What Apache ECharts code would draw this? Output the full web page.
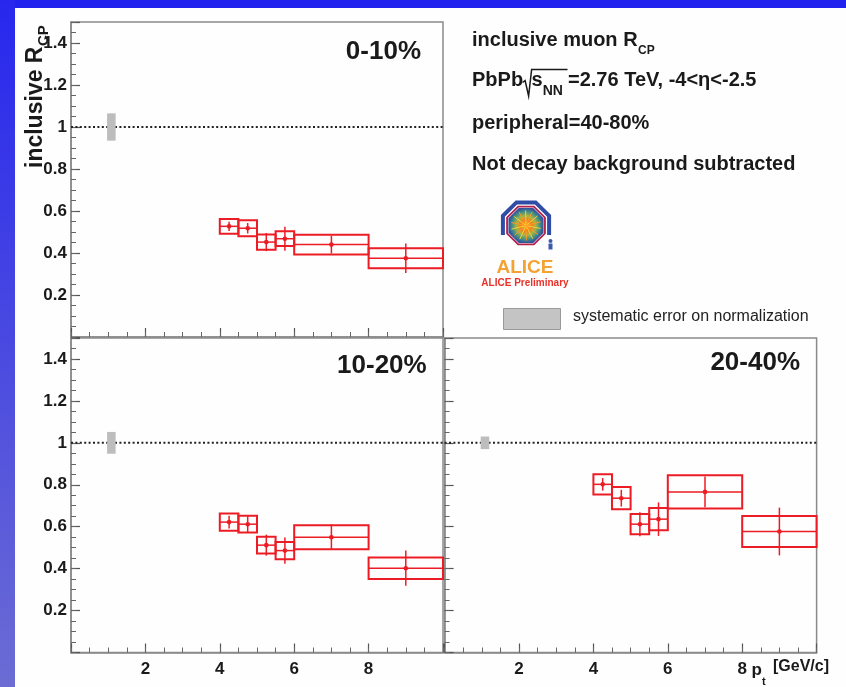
<!DOCTYPE html>
<html>
<head>
<meta charset="utf-8">
<script src="https://cdn.jsdelivr.net/npm/echarts@6/dist/echarts.min.js"></script>
<style>
  html, body { margin: 0; padding: 0; background: #fff; }
  #chart { width: 846px; height: 687px; }
</style>
</head>
<body>
<div id="chart"></div>
<script>
// p_t bins in GeV/c
const binLow    = [4.0, 4.5, 5.0, 5.5, 6.0, 8.0];
const binHigh   = [4.5, 5.0, 5.5, 6.0, 8.0, 10.0];
const binCenter = [4.25, 4.75, 5.25, 5.75, 7.0, 9.0];

// inclusive muon R_CP, centrality 0-10%
const rcp0010  = [0.527, 0.518, 0.452, 0.468, 0.440, 0.375];
const sys0010  = [0.035, 0.038, 0.036, 0.035, 0.047, 0.048];
const stat0010 = [0.022, 0.025, 0.043, 0.057, 0.042, 0.070];

// centrality 10-20%
const rcp1020  = [0.622, 0.612, 0.512, 0.486, 0.550, 0.402];
const sys1020  = [0.041, 0.040, 0.040, 0.041, 0.057, 0.051];
const stat1020 = [0.030, 0.038, 0.050, 0.063, 0.061, 0.084];

// centrality 20-40%
const rcp2040  = [0.802, 0.736, 0.612, 0.636, 0.766, 0.577];
const sys2040  = [0.048, 0.053, 0.048, 0.053, 0.079, 0.074];
const stat2040 = [0.030, 0.040, 0.057, 0.080, 0.073, 0.114];

// normalization uncertainty of each class, drawn as a grey band at R_CP = 1
const normSys  = [0.065, 0.052, 0.030];
const normBinX = [0.97, 1.2];

const centralityLabels = ['0-10%', '10-20%', '20-40%'];
const xTickLabels = [2, 4, 6, 8];
const yTickLabels = ['0.2', '0.4', '0.6', '0.8', '1', '1.2', '1.4'];

const FONT = '"Liberation Sans", Arial, Helvetica, sans-serif';
const RED = '#ec1c24';
const FRAME = '#8a8a8a';

const measureCtx = document.createElement('canvas').getContext('2d');
function textWidth(text, font) { measureCtx.font = font; return measureCtx.measureText(text).width; }

// panel geometry
const grids = [
  { left: 71,    top: 22,  width: 372, height: 315 },
  { left: 71,    top: 338, width: 372, height: 314.5 },
  { left: 444.6, top: 338, width: 372, height: 314.5 }
];

function majorX(gi, showLabels) {
  return {
    type: 'value', gridIndex: gi, position: 'bottom', min: 0, max: 10, interval: 2,
    axisLine: { show: true, onZero: false, lineStyle: { color: FRAME, width: 1.5 } },
    axisTick: { show: true, inside: true, length: 9, lineStyle: { color: '#555', width: 1.2 } },
    splitLine: { show: false },
    axisLabel: {
      show: showLabels, margin: 8, fontSize: 17, fontWeight: 'bold', color: '#1a1a1a', fontFamily: FONT,
      formatter: v => xTickLabels.indexOf(Math.round(v)) >= 0 ? String(Math.round(v)) : ''
    }
  };
}
function minorX(gi) {
  return {
    type: 'value', gridIndex: gi, position: 'bottom', min: 0, max: 10, interval: 0.5,
    axisLine: { show: false, onZero: false },
    axisTick: { show: true, inside: true, length: 5, lineStyle: { color: '#666', width: 1 } },
    splitLine: { show: false }, axisLabel: { show: false }
  };
}
function majorY(gi, showLabels) {
  return {
    type: 'value', gridIndex: gi, position: 'left', min: 0, max: 1.5, interval: 0.2,
    axisLine: { show: true, onZero: false, lineStyle: { color: FRAME, width: 1.5 } },
    axisTick: { show: true, inside: true, length: 9, lineStyle: { color: '#555', width: 1.2 } },
    splitLine: { show: false },
    axisLabel: {
      show: showLabels, margin: 4, fontSize: 17, fontWeight: 'bold', color: '#1a1a1a', fontFamily: FONT,
      formatter: v => {
        const s = String(Math.round(v * 10) / 10);
        return yTickLabels.indexOf(s) >= 0 ? s : '';
      }
    }
  };
}
function minorY(gi) {
  return {
    type: 'value', gridIndex: gi, position: 'left', min: 0, max: 1.5, interval: 0.05,
    axisLine: { show: false, onZero: false },
    axisTick: { show: true, inside: true, length: 5, lineStyle: { color: '#666', width: 1 } },
    splitLine: { show: false }, axisLabel: { show: false }
  };
}

const xAxes = [], yAxes = [];
grids.forEach((g, i) => {
  xAxes.push(majorX(i, i > 0));
  yAxes.push(majorY(i, i < 2));
});
grids.forEach((g, i) => {
  xAxes.push(minorX(i));
  yAxes.push(minorY(i));
});

function pointsData(vals, sys, stat) {
  return vals.map((v, i) => [binLow[i], binHigh[i], binCenter[i], v, sys[i], stat[i]]);
}

// systematic box, bin-width bar, statistical bar and marker for each p_t bin
function renderPoint(params, api) {
  const lo = api.value(0), hi = api.value(1), c = api.value(2);
  const v = api.value(3), sy = api.value(4), st = api.value(5);
  const tl = api.coord([lo, v + sy]);
  const br = api.coord([hi, v - sy]);
  const ml = api.coord([lo, v]);
  const mr = api.coord([hi, v]);
  const st1 = api.coord([c, v + st]);
  const st2 = api.coord([c, v - st]);
  const mc = api.coord([c, v]);
  return {
    type: 'group',
    children: [
      { type: 'rect', shape: { x: tl[0], y: tl[1], width: br[0] - tl[0], height: br[1] - tl[1] },
        style: { fill: 'none', stroke: RED, lineWidth: 2 } },
      { type: 'line', shape: { x1: ml[0], y1: ml[1], x2: mr[0], y2: mr[1] },
        style: { stroke: RED, lineWidth: 1.5 } },
      { type: 'line', shape: { x1: st1[0], y1: st1[1], x2: st2[0], y2: st2[1] },
        style: { stroke: RED, lineWidth: 1.5 } },
      { type: 'circle', shape: { cx: mc[0], cy: mc[1], r: 2.3 }, style: { fill: RED } }
    ]
  };
}

function renderNorm(params, api) {
  const a = api.coord([api.value(0), 1 + api.value(2)]);
  const b = api.coord([api.value(1), 1 - api.value(2)]);
  return { type: 'rect', shape: { x: a[0], y: a[1], width: b[0] - a[0], height: b[1] - a[1] },
           style: { fill: '#bdbdbd' } };
}

const classes = [
  [rcp0010, sys0010, stat0010],
  [rcp1020, sys1020, stat1020],
  [rcp2040, sys2040, stat2040]
];

const series = [];
classes.forEach((cl, i) => {
  series.push({
    type: 'line', xAxisIndex: i, yAxisIndex: i, data: [[0, 1], [10, 1]],
    symbol: 'none', silent: true, z: 1,
    lineStyle: { color: '#222', width: 2, type: [2, 2.4] }
  });
  series.push({
    type: 'custom', xAxisIndex: i, yAxisIndex: i, z: 3, silent: true,
    data: [[normBinX[0], normBinX[1], normSys[i]]],
    encode: { x: [0, 1], y: 2 }, renderItem: renderNorm
  });
  series.push({
    type: 'custom', xAxisIndex: i, yAxisIndex: i, z: 4, silent: true,
    data: pointsData(cl[0], cl[1], cl[2]),
    encode: { x: [0, 1], y: 3 }, renderItem: renderPoint
  });
});

// text placed by its baseline
function txt(x, base, text, size, opts) {
  opts = opts || {};
  const weight = opts.weight || 'bold';
  return {
    type: 'text', x: x, y: base - 0.33 * size, silent: true,
    style: {
      text: text, font: weight + ' ' + size + 'px ' + FONT,
      fill: opts.color || '#1a1a1a', textAlign: opts.align || 'left',
      verticalAlign: 'middle', textVerticalAlign: 'middle'
    }
  };
}

const graphics = [];
// page frame
graphics.push({ type: 'rect', silent: true, shape: { x: 0, y: 0, width: 846, height: 8 }, style: { fill: '#2222ee' } });
graphics.push({ type: 'rect', silent: true, shape: { x: 0, y: 0, width: 15, height: 687 },
  style: { fill: new echarts.graphic.LinearGradient(0, 0, 0, 1, [
    { offset: 0, color: '#2727ee' }, { offset: 1, color: '#6c6cd4' }]) } });

// centrality class labels
graphics.push(txt(421, 60.5, centralityLabels[0], 26, { align: 'right' }));
graphics.push(txt(426.7, 374, centralityLabels[1], 26, { align: 'right' }));
graphics.push(txt(800, 371, centralityLabels[2], 26, { align: 'right' }));

// y-axis title, reading upward
const yTitleFont = 'bold 23px ' + FONT;
graphics.push({
  type: 'group', x: 35.5, y: 168, rotation: Math.PI / 2, silent: true,
  children: [
    { type: 'text', x: 0, y: 0, style: { text: 'inclusive R', font: yTitleFont, fill: '#1a1a1a',
      textAlign: 'left', verticalAlign: 'middle', textVerticalAlign: 'middle' } },
    { type: 'text', x: textWidth('inclusive R', yTitleFont) + 0.5, y: 8,
      style: { text: 'CP', font: 'bold 15px ' + FONT, fill: '#1a1a1a',
      textAlign: 'left', verticalAlign: 'middle', textVerticalAlign: 'middle' } }
  ]
});

// x-axis title
graphics.push(txt(751.5, 676, 'p', 17));
graphics.push(txt(762, 686, 't', 11));
graphics.push(txt(773, 671.5, '[GeV/c]', 16));

// information block
const infoFont = 'bold 20px ' + FONT;
graphics.push(txt(472, 46.7, 'inclusive muon R', 20));
graphics.push(txt(472 + textWidth('inclusive muon R', infoFont) + 0.5, 55, 'CP', 12));
const b2 = 87.5;
graphics.push(txt(472, b2, 'PbPb', 20));
const sq0 = 472 + textWidth('PbPb', infoFont) + 0.5;
graphics.push({ type: 'polyline', silent: true,
  shape: { points: [[sq0 - 1, b2 - 5], [sq0 + 1.5, b2 - 7], [sq0 + 5, b2 + 8.5], [sq0 + 8, b2 - 18], [567.5, b2 - 18]] },
  style: { stroke: '#1a1a1a', lineWidth: 1.5, fill: 'none' } });
graphics.push(txt(sq0 + 8, b2, 's', 20));
graphics.push(txt(sq0 + 8 + textWidth('s', infoFont), 96, 'NN', 14));
graphics.push(txt(568, b2, '=2.76 TeV, -4<\u03b7<-2.5', 20));
graphics.push(txt(472, 130, 'peripheral=40-80%', 20));
graphics.push(txt(472, 170.7, 'Not decay background subtracted', 20));

// ALICE logo
function octagon(cx, cy, r) {
  const pts = [];
  for (let k = 0; k < 8; k++) {
    const a = Math.PI / 8 + k * Math.PI / 4;
    pts.push([cx + r * Math.cos(a), cy + r * Math.sin(a)]);
  }
  return pts;
}
const lcx = 526, lcy = 225.5;
graphics.push({ type: 'polygon', silent: true, shape: { points: octagon(lcx, lcy, 19) },
  style: { fill: new echarts.graphic.RadialGradient(0.5, 0.5, 0.5, [
    { offset: 0, color: '#ffb81c' }, { offset: 0.3, color: '#f47c22' }, { offset: 0.55, color: '#a9b443' },
    { offset: 0.8, color: '#3f8f8a' }, { offset: 1, color: '#34509c' }]) } });
for (let k = 0; k < 14; k++) {
  const a = k * Math.PI * 2 / 14 + 0.2;
  graphics.push({ type: 'line', silent: true,
    shape: { x1: lcx, y1: lcy, x2: lcx + 15 * Math.cos(a), y2: lcy + 15 * Math.sin(a) },
    style: { stroke: k % 2 ? '#ff9a1e' : '#f2d23a', lineWidth: 1 } });
}
graphics.push({ type: 'polygon', silent: true, shape: { points: octagon(lcx, lcy, 20.5) },
  style: { fill: 'none', stroke: '#b0204c', lineWidth: 1.8 } });
graphics.push({ type: 'polyline', silent: true,
  shape: { points: octagon(lcx, lcy, 25).slice(3).concat(octagon(lcx, lcy, 25).slice(0, 1)) },
  style: { fill: 'none', stroke: '#2f4da6', lineWidth: 4 } });
graphics.push({ type: 'circle', silent: true, shape: { cx: 550.5, cy: 241, r: 2 }, style: { fill: '#3a5ab0' } });
graphics.push({ type: 'rect', silent: true, shape: { x: 548.5, y: 243.5, width: 4, height: 6 }, style: { fill: '#3a5ab0' } });
graphics.push(txt(525, 274, 'ALICE', 19, { align: 'center', color: '#f4a233' }));
graphics.push(txt(525, 287, 'ALICE Preliminary', 10, { align: 'center', color: '#e8322a' }));

// normalization legend
graphics.push({ type: 'rect', silent: true, shape: { x: 503.5, y: 308.5, width: 57, height: 21 },
  style: { fill: '#c4c4c4', stroke: '#9a9a9a', lineWidth: 1 } });
graphics.push(txt(573, 322, 'systematic error on normalization', 16, { weight: 'normal', color: '#222' }));

const chart = echarts.init(document.getElementById('chart'), null, { renderer: 'canvas' });
chart.setOption({
  backgroundColor: '#fefefe',
  animation: false,
  grid: grids.map(g => Object.assign({ show: true, borderColor: FRAME, borderWidth: 1.5,
    backgroundColor: 'transparent', containLabel: false }, g)),
  xAxis: xAxes,
  yAxis: yAxes,
  series: series,
  graphic: { elements: graphics }
});
</script>
</body>
</html>
